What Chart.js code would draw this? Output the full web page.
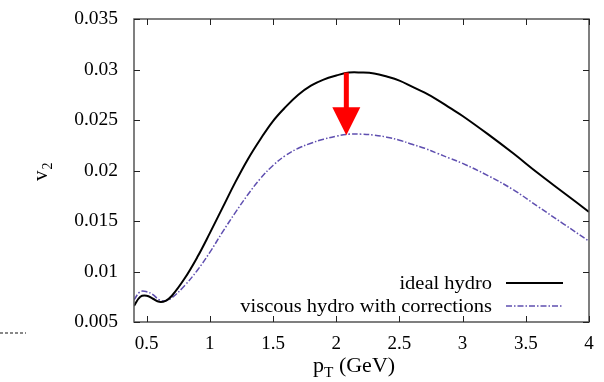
<!DOCTYPE html>
<html>
<head>
<meta charset="utf-8">
<script src="https://cdn.jsdelivr.net/npm/chart.js@4.4.1/dist/chart.umd.min.js"></script>
<style>
    html, body { margin: 0; padding: 0; background: #fff; }
    #wrap { width: 604px; height: 382px; }
</style>
</head>
<body>
<div id="wrap"><canvas id="v2Chart"></canvas></div>
<script>
// pT grid (GeV) shared by both curves
const ptValues = [0.40, 0.45, 0.50, 0.55, 0.60, 0.65, 0.70,
                  0.8, 0.9, 1.0, 1.1, 1.2, 1.3, 1.4, 1.5, 1.6, 1.7, 1.8, 1.9, 2.0,
                  2.1, 2.2, 2.3, 2.4, 2.5, 2.6, 2.7, 2.8, 2.9, 3.0,
                  3.2, 3.4, 3.6, 3.8, 4.0];

const idealV2 = [0.0066, 0.0075, 0.0076, 0.0073, 0.0070, 0.0071, 0.0076,
                 0.0093, 0.0114, 0.0138, 0.0163, 0.0188, 0.0211, 0.0231, 0.0249, 0.0263, 0.0275, 0.0284, 0.0290, 0.0294,
                 0.0297, 0.0297, 0.0296, 0.0293, 0.0289, 0.0283, 0.0277, 0.0270, 0.0262, 0.0254,
                 0.0236, 0.0217, 0.0197, 0.0178, 0.0159];

const viscousV2 = [0.0072, 0.0080, 0.0080, 0.0077, 0.0072, 0.0071, 0.0074,
                   0.0086, 0.0101, 0.0119, 0.0139, 0.0158, 0.0176, 0.0192, 0.0205, 0.0215, 0.0222, 0.0227, 0.0231, 0.0234,
                   0.0236, 0.0236, 0.0235, 0.0233, 0.0230, 0.0226, 0.0222, 0.0217, 0.0212, 0.0207,
                   0.0195, 0.0181, 0.0164, 0.0147, 0.0130];

const seriesLabels = ['ideal hydro', 'viscous hydro with corrections'];

const xTicks = [0.5, 1, 1.5, 2, 2.5, 3, 3.5, 4];
const yTicks = [0.005, 0.01, 0.015, 0.02, 0.025, 0.03, 0.035];

// red arrow from ideal peak down to viscous peak
const arrowPt = [2.08, 2.08];
const arrowV2 = [0.0297, 0.0235];

const SERIF = '"Liberation Serif", "DejaVu Serif", serif';
const INK = '#000';
const FRAME = '#555';
const PURPLE = '#5f4fb0';

function toPoints(xs, ys) {
    return xs.map((x, i) => ({ x: x, y: ys[i] }));
}

// draw a string with horizontal stretch (the reference type is a bit wide)
function wideText(ctx, str, x, y, size, align) {
    ctx.save();
    ctx.font = size + 'px ' + SERIF;
    const w = ctx.measureText(str).width * 1.1;
    let x0 = x;
    if (align === 'right') x0 = x - w;
    if (align === 'center') x0 = x - w / 2;
    ctx.translate(x0, y);
    ctx.scale(1.1, 1);
    ctx.textAlign = 'left';
    ctx.fillText(str, 0, 0);
    ctx.restore();
    return w;
}

const decorPlugin = {
    id: 'decor',
    afterDatasetsDraw(chart) {
        const ctx = chart.ctx;
        const xs = chart.scales.x, ys = chart.scales.y;
        const ax = xs.getPixelForValue(arrowPt[0]);
        const top = ys.getPixelForValue(arrowV2[0]);
        const tip = ys.getPixelForValue(arrowV2[1]);
        const headLen = 28, headHalf = 14;
        ctx.save();
        ctx.fillStyle = '#ff0000';
        ctx.fillRect(ax - 2.5, top, 5, tip - headLen - top + 1);
        ctx.beginPath();
        ctx.moveTo(ax - headHalf, tip - headLen);
        ctx.lineTo(ax + headHalf, tip - headLen);
        ctx.lineTo(ax, tip);
        ctx.closePath();
        ctx.fill();
        ctx.restore();
    },
    afterDraw(chart) {
        const ctx = chart.ctx;
        const a = chart.chartArea;
        const xs = chart.scales.x, ys = chart.scales.y;
        const tl = 6;
        ctx.save();

        // frame
        ctx.strokeStyle = FRAME;
        ctx.lineWidth = 1.5;
        ctx.strokeRect(a.left, a.top, a.right - a.left, a.bottom - a.top);

        // inward ticks, mirrored on all four sides
        ctx.lineWidth = 1;
        ctx.strokeStyle = '#222';
        ctx.beginPath();
        xTicks.forEach(v => {
            const px = Math.round(xs.getPixelForValue(v)) + 0.5;
            ctx.moveTo(px, a.bottom); ctx.lineTo(px, a.bottom - tl);
            ctx.moveTo(px, a.top); ctx.lineTo(px, a.top + tl);
        });
        yTicks.forEach(v => {
            const py = Math.round(ys.getPixelForValue(v)) + 0.5;
            ctx.moveTo(a.left, py); ctx.lineTo(a.left + tl, py);
            ctx.moveTo(a.right, py); ctx.lineTo(a.right - tl, py);
        });
        ctx.stroke();

        // legend (text right aligned, sample on the right)
        ctx.fillStyle = INK;
        ctx.textBaseline = 'middle';
        const rows = [283, 306];
        chart.data.datasets.forEach((ds, i) => {
            wideText(ctx, ds.label, 492, rows[i] + 1, 18.6, 'right');
            ctx.beginPath();
            ctx.strokeStyle = ds.borderColor;
            ctx.lineWidth = ds.borderWidth;
            ctx.setLineDash(ds.borderDash || []);
            ctx.moveTo(506, rows[i]);
            ctx.lineTo(563, rows[i]);
            ctx.stroke();
        });
        ctx.setLineDash([]);

        // x axis title: p_T (GeV)
        ctx.textBaseline = 'alphabetic';
        let x = 313;
        x += wideText(ctx, 'p', x, 372, 20, 'left');
        x += wideText(ctx, 'T', x, 377, 14, 'left');
        wideText(ctx, ' (GeV)', x, 372, 20, 'left');

        // y axis title: v_2 (rotated)
        ctx.save();
        ctx.translate(47, 181);
        ctx.rotate(-Math.PI / 2);
        ctx.font = '21px ' + SERIF;
        ctx.fillText('v', 0, 0);
        const vw = ctx.measureText('v').width;
        ctx.font = '14px ' + SERIF;
        ctx.fillText('2', vw + 1, 5);
        ctx.restore();

        // stray dotted mark at left edge of the reference
        ctx.strokeStyle = '#888';
        ctx.lineWidth = 2;
        ctx.setLineDash([3, 2]);
        ctx.beginPath();
        ctx.moveTo(0, 333);
        ctx.lineTo(26, 333);
        ctx.stroke();
        ctx.restore();
    }
};

new Chart(document.getElementById('v2Chart').getContext('2d'), {
    type: 'line',
    data: {
        datasets: [{
            label: seriesLabels[0],
            data: toPoints(ptValues, idealV2),
            borderColor: '#000',
            borderWidth: 2,
            pointRadius: 0,
            tension: 0.4,
            fill: false
        }, {
            label: seriesLabels[1],
            data: toPoints(ptValues, viscousV2),
            borderColor: PURPLE,
            borderWidth: 1.5,
            borderDash: [6, 2, 1.5, 2],
            pointRadius: 0,
            tension: 0.4,
            fill: false
        }]
    },
    options: {
        animation: false,
        responsive: true,
        maintainAspectRatio: false,
        devicePixelRatio: 1,
        layout: { padding: { left: 0, top: 19, right: 15, bottom: 0 } },
        plugins: {
            legend: { display: false },
            tooltip: { enabled: false },
            title: { display: false }
        },
        scales: {
            x: {
                type: 'linear',
                min: 0.4,
                max: 4,
                grid: { display: false, drawTicks: false },
                border: { display: false },
                afterBuildTicks: s => { s.ticks = xTicks.map(v => ({ value: v })); },
                afterFit: s => { s.height = 60; s.paddingLeft = 0; s.paddingRight = 0; },
                ticks: {
                    color: INK,
                    padding: 11,
                    maxRotation: 0,
                    font: { family: SERIF, size: 19 },
                    callback: v => String(v)
                }
            },
            y: {
                type: 'linear',
                min: 0.005,
                max: 0.035,
                grid: { display: false, drawTicks: false },
                border: { display: false },
                afterBuildTicks: s => { s.ticks = yTicks.map(v => ({ value: v })); },
                afterFit: s => { s.width = 134; s.paddingTop = 0; s.paddingBottom = 0; },
                ticks: {
                    color: INK,
                    padding: 16,
                    font: { family: SERIF, size: 19.5 },
                    callback: v => String(v)
                }
            }
        }
    },
    plugins: [decorPlugin]
});
</script>
</body>
</html>
